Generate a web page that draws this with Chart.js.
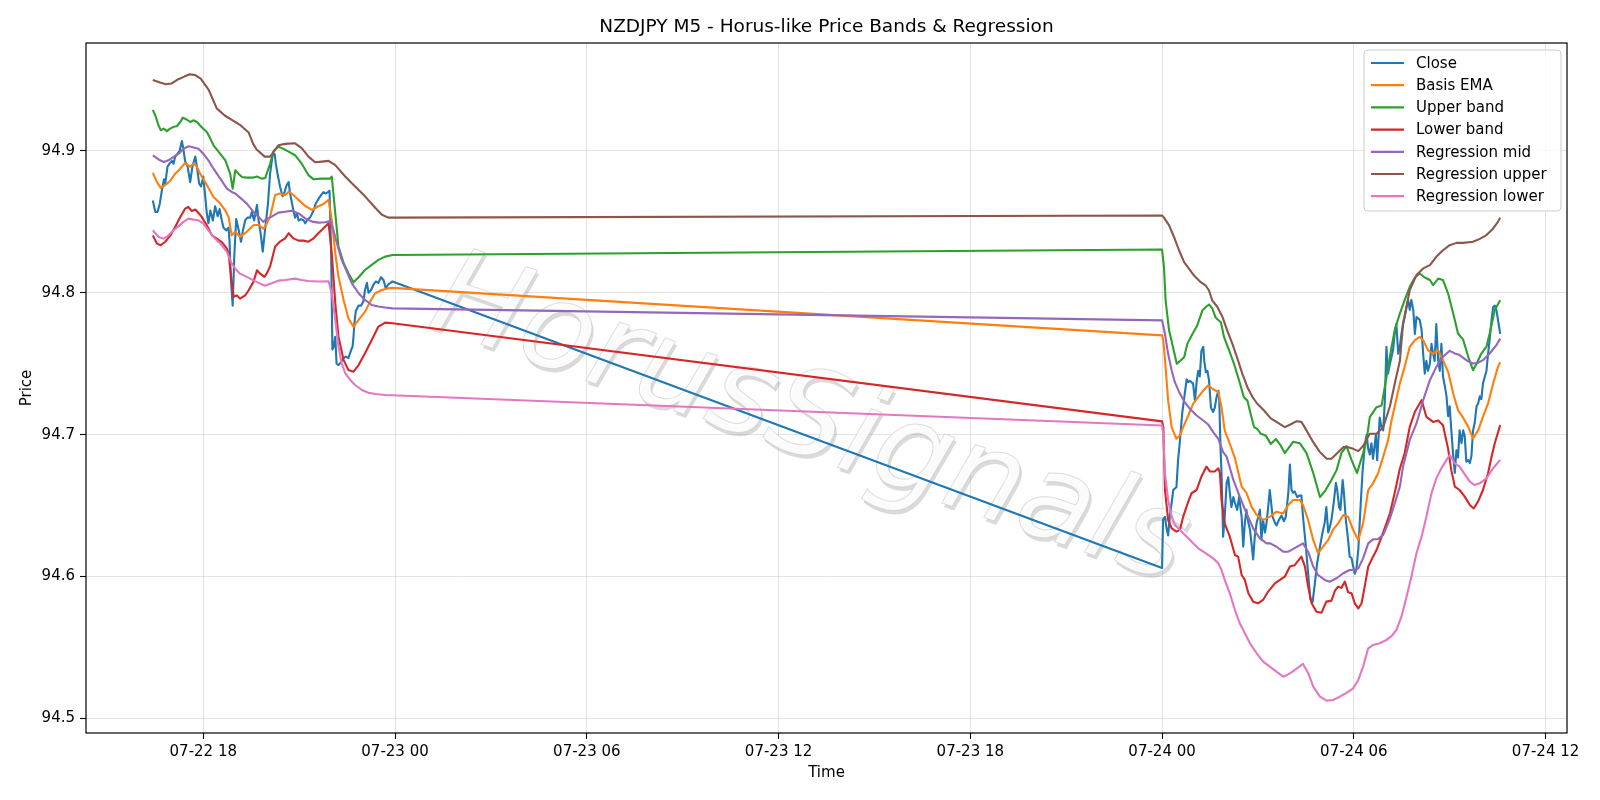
<!DOCTYPE html>
<html>
<head>
<meta charset="utf-8">
<title>NZDJPY M5 - Horus-like Price Bands & Regression</title>
<script src="https://cdn.jsdelivr.net/npm/chart.js@4.4.1/dist/chart.umd.min.js"></script>
<style>
    html, body { margin: 0; padding: 0; background: #fff; }
    #chart { display: block; }
</style>
</head>
<body>
<canvas id="chart" width="1600" height="800"></canvas>
<script>
// hours counted from 07-22 00:00, values are NZDJPY prices
const tickHours = [18, 24, 30, 36, 42, 48, 54, 60];
const tickLabels = ['07-22 18', '07-23 00', '07-23 06', '07-23 12', '07-23 18', '07-24 00', '07-24 06', '07-24 12'];
const priceTicks = [94.5, 94.6, 94.7, 94.8, 94.9];

const seriesNames = ['Close', 'Basis EMA', 'Upper band', 'Lower band', 'Regression mid', 'Regression upper', 'Regression lower'];
const seriesColors = ['#1f77b4', '#ff7f0e', '#2ca02c', '#d62728', '#9467bd', '#8c564b', '#e377c2'];

const closeData = [
    [16.42, 94.865], [16.5, 94.857], [16.57, 94.857], [16.64, 94.863], [16.71, 94.873], [16.77, 94.880], [16.81, 94.877],
    [16.88, 94.889], [16.94, 94.891], [17.02, 94.893], [17.07, 94.891], [17.12, 94.896], [17.19, 94.898], [17.26, 94.900],
    [17.33, 94.907], [17.38, 94.901], [17.43, 94.893], [17.51, 94.889], [17.59, 94.878], [17.66, 94.889], [17.75, 94.896],
    [17.8, 94.889], [17.87, 94.877], [17.93, 94.875], [18.0, 94.882], [18.06, 94.868], [18.11, 94.856], [18.16, 94.849],
    [18.22, 94.858], [18.3, 94.851], [18.37, 94.861], [18.45, 94.854], [18.51, 94.859], [18.58, 94.851], [18.63, 94.846],
    [18.72, 94.844], [18.79, 94.846], [18.82, 94.837], [18.86, 94.811], [18.92, 94.791], [18.97, 94.826], [19.03, 94.852],
    [19.1, 94.845], [19.18, 94.836], [19.24, 94.844], [19.31, 94.851], [19.38, 94.853], [19.47, 94.853], [19.52, 94.857],
    [19.59, 94.851], [19.68, 94.862], [19.73, 94.851], [19.8, 94.841], [19.86, 94.829], [19.94, 94.846], [20.02, 94.862],
    [20.09, 94.884], [20.17, 94.897], [20.23, 94.898], [20.27, 94.891], [20.33, 94.883], [20.4, 94.875], [20.48, 94.868],
    [20.54, 94.871], [20.61, 94.876], [20.67, 94.878], [20.71, 94.871], [20.75, 94.866], [20.82, 94.858], [20.87, 94.853],
    [20.93, 94.856], [20.98, 94.851], [21.06, 94.852], [21.14, 94.851], [21.19, 94.849], [21.27, 94.852], [21.34, 94.853],
    [21.45, 94.858], [21.52, 94.863], [21.6, 94.866], [21.69, 94.869], [21.76, 94.871], [21.83, 94.870], [21.9, 94.871],
    [21.95, 94.872], [22.0, 94.828], [22.04, 94.760], [22.08, 94.762], [22.13, 94.769], [22.17, 94.750], [22.23, 94.749],
    [22.31, 94.751], [22.39, 94.754], [22.46, 94.755], [22.54, 94.754], [22.63, 94.760], [22.67, 94.762], [22.7, 94.769],
    [22.73, 94.779], [22.77, 94.787], [22.86, 94.791], [22.94, 94.791], [23.01, 94.794], [23.06, 94.802], [23.12, 94.807],
    [23.17, 94.800], [23.25, 94.802], [23.33, 94.806], [23.4, 94.808], [23.48, 94.807], [23.56, 94.811], [23.64, 94.809],
    [23.71, 94.803], [23.79, 94.806], [23.86, 94.807], [23.92, 94.808],
    [48.0, 94.606], [48.03, 94.640], [48.09, 94.642], [48.14, 94.634], [48.19, 94.629], [48.24, 94.642], [48.3, 94.652],
    [48.35, 94.661], [48.4, 94.662], [48.45, 94.663], [48.5, 94.682], [48.56, 94.696], [48.63, 94.715], [48.71, 94.729],
    [48.77, 94.739], [48.82, 94.737], [48.87, 94.738], [48.92, 94.737], [48.97, 94.736], [49.03, 94.724], [49.08, 94.737],
    [49.13, 94.745], [49.18, 94.741], [49.23, 94.759], [49.29, 94.762], [49.32, 94.752], [49.37, 94.744], [49.42, 94.745],
    [49.47, 94.738], [49.53, 94.719], [49.6, 94.716], [49.65, 94.719], [49.7, 94.726], [49.76, 94.731], [49.79, 94.724],
    [49.83, 94.690], [49.86, 94.673], [49.91, 94.628], [49.96, 94.642], [50.02, 94.666], [50.07, 94.670], [50.12, 94.659],
    [50.17, 94.649], [50.23, 94.656], [50.28, 94.652], [50.35, 94.647], [50.41, 94.656], [50.49, 94.642], [50.54, 94.621],
    [50.59, 94.638], [50.64, 94.647], [50.7, 94.638], [50.75, 94.633], [50.8, 94.623], [50.85, 94.612], [50.9, 94.628],
    [50.96, 94.638], [51.01, 94.642], [51.06, 94.647], [51.11, 94.626], [51.16, 94.640], [51.22, 94.631], [51.27, 94.638],
    [51.32, 94.649], [51.37, 94.661], [51.46, 94.642], [51.53, 94.638], [51.58, 94.636], [51.66, 94.640], [51.74, 94.643],
    [51.81, 94.639], [51.87, 94.642], [51.95, 94.659], [52.0, 94.679], [52.05, 94.661], [52.1, 94.659], [52.15, 94.660],
    [52.23, 94.656], [52.29, 94.657], [52.36, 94.657], [52.41, 94.642], [52.5, 94.621], [52.57, 94.602], [52.64, 94.584],
    [52.71, 94.582], [52.78, 94.595], [52.85, 94.609], [52.94, 94.621], [53.02, 94.631], [53.09, 94.638], [53.14, 94.649],
    [53.2, 94.631], [53.25, 94.635], [53.3, 94.640], [53.37, 94.652], [53.44, 94.666], [53.48, 94.661], [53.54, 94.649],
    [53.58, 94.647], [53.65, 94.668], [53.69, 94.659], [53.75, 94.640], [53.82, 94.626], [53.87, 94.614], [53.93, 94.613],
    [53.98, 94.607], [54.03, 94.602], [54.08, 94.605], [54.14, 94.619], [54.21, 94.649], [54.27, 94.673], [54.34, 94.692],
    [54.4, 94.700], [54.45, 94.690], [54.5, 94.686], [54.55, 94.694], [54.6, 94.683], [54.69, 94.700], [54.73, 94.682],
    [54.81, 94.712], [54.87, 94.705], [54.92, 94.703], [54.97, 94.724], [55.02, 94.762], [55.07, 94.743], [55.13, 94.750],
    [55.18, 94.755], [55.23, 94.760], [55.28, 94.772], [55.33, 94.778], [55.39, 94.757], [55.44, 94.762], [55.49, 94.771],
    [55.54, 94.778], [55.59, 94.783], [55.65, 94.790], [55.7, 94.795], [55.75, 94.788], [55.8, 94.795], [55.86, 94.788],
    [55.91, 94.771], [55.96, 94.783], [56.01, 94.782], [56.06, 94.781], [56.12, 94.774], [56.17, 94.757], [56.22, 94.743],
    [56.27, 94.752], [56.32, 94.745], [56.38, 94.750], [56.43, 94.764], [56.48, 94.757], [56.53, 94.752], [56.58, 94.778],
    [56.64, 94.752], [56.69, 94.745], [56.74, 94.764], [56.79, 94.741], [56.85, 94.734], [56.9, 94.727], [56.95, 94.713],
    [57.0, 94.720], [57.05, 94.703], [57.11, 94.685], [57.16, 94.673], [57.21, 94.689], [57.26, 94.684], [57.31, 94.703],
    [57.37, 94.694], [57.42, 94.703], [57.47, 94.699], [57.52, 94.681], [57.58, 94.682], [57.63, 94.680], [57.68, 94.685],
    [57.73, 94.703], [57.78, 94.708], [57.84, 94.720], [57.89, 94.722], [57.94, 94.727], [57.99, 94.725], [58.04, 94.736],
    [58.1, 94.741], [58.15, 94.745], [58.2, 94.757], [58.25, 94.767], [58.31, 94.781], [58.36, 94.790], [58.41, 94.791],
    [58.46, 94.788], [58.51, 94.781], [58.58, 94.771]
];

const emaData = [
    [16.42, 94.8845], [16.55, 94.878], [16.67, 94.874], [16.81, 94.876], [16.97, 94.879], [17.12, 94.884], [17.28, 94.8875],
    [17.43, 94.8915], [17.59, 94.889], [17.7, 94.891], [17.8, 94.889], [17.9, 94.884], [18.11, 94.876], [18.32, 94.8676],
    [18.53, 94.863], [18.69, 94.858], [18.79, 94.8535], [18.89, 94.8405], [19.0, 94.843], [19.15, 94.8394], [19.36, 94.843],
    [19.57, 94.8476], [19.73, 94.848], [19.88, 94.8452], [19.94, 94.8467], [20.09, 94.8537], [20.25, 94.869], [20.4, 94.870],
    [20.56, 94.869], [20.67, 94.8713], [20.82, 94.869], [20.98, 94.8655], [21.19, 94.8612], [21.4, 94.8584], [21.6, 94.861],
    [21.76, 94.8626], [21.92, 94.8655], [22.02, 94.8514], [22.13, 94.8279], [22.23, 94.8114], [22.39, 94.795], [22.54, 94.782],
    [22.7, 94.7762], [22.86, 94.7809], [23.06, 94.7867], [23.22, 94.7938], [23.38, 94.7997], [23.59, 94.802], [23.79, 94.8032],
    [23.92, 94.8035],
    [48.0, 94.770], [48.04, 94.7664], [48.11, 94.7476], [48.19, 94.724], [48.3, 94.7053], [48.45, 94.6971], [48.56, 94.6995],
    [48.66, 94.7053], [48.82, 94.7135], [48.97, 94.7217], [49.13, 94.7264], [49.29, 94.7311], [49.44, 94.7347], [49.6, 94.732],
    [49.76, 94.730], [49.86, 94.7194], [49.96, 94.703], [50.12, 94.6935], [50.28, 94.6834], [50.49, 94.6634], [50.64, 94.659],
    [50.8, 94.6493], [50.96, 94.6434], [51.17, 94.6399], [51.38, 94.6422], [51.58, 94.6457], [51.79, 94.6445], [51.95, 94.6504],
    [52.1, 94.654], [52.31, 94.654], [52.41, 94.6504], [52.57, 94.6399], [52.73, 94.6258], [52.88, 94.6164], [53.04, 94.6211],
    [53.2, 94.6258], [53.35, 94.633], [53.51, 94.6375], [53.67, 94.6434], [53.82, 94.6422], [53.98, 94.6328], [54.14, 94.6258],
    [54.29, 94.6375], [54.45, 94.661], [54.6, 94.6657], [54.76, 94.6728], [54.92, 94.6845], [55.07, 94.696], [55.18, 94.710],
    [55.28, 94.720], [55.44, 94.7361], [55.59, 94.7478], [55.75, 94.7619], [55.91, 94.7666], [56.06, 94.769], [56.17, 94.7666],
    [56.32, 94.7596], [56.48, 94.757], [56.64, 94.7596], [56.79, 94.7525], [56.95, 94.7443], [57.11, 94.729], [57.26, 94.7173],
    [57.42, 94.712], [57.58, 94.7055], [57.73, 94.6973], [57.89, 94.703], [58.04, 94.7126], [58.2, 94.722], [58.36, 94.7361],
    [58.51, 94.7478], [58.58, 94.751]
];

const upperData = [
    [16.42, 94.929], [16.5, 94.925], [16.6, 94.918], [16.67, 94.9146], [16.76, 94.9157], [16.86, 94.914], [16.96, 94.9157],
    [17.07, 94.917], [17.17, 94.9174], [17.28, 94.9204], [17.36, 94.9235], [17.49, 94.922], [17.59, 94.9204], [17.7, 94.9216],
    [17.8, 94.9204], [17.9, 94.918], [18.0, 94.9157], [18.11, 94.9134], [18.22, 94.9087], [18.32, 94.904], [18.53, 94.898],
    [18.69, 94.8934], [18.84, 94.884], [18.92, 94.8734], [19.0, 94.8864], [19.1, 94.884], [19.21, 94.8817], [19.36, 94.8812],
    [19.57, 94.8812], [19.68, 94.882], [19.83, 94.8805], [19.94, 94.881], [20.09, 94.891], [20.2, 94.900], [20.35, 94.903],
    [20.46, 94.902], [20.67, 94.8995], [20.87, 94.897], [21.08, 94.891], [21.29, 94.883], [21.45, 94.880], [21.71, 94.8805],
    [21.97, 94.8805], [22.02, 94.882], [22.13, 94.856], [22.23, 94.8326], [22.39, 94.821], [22.54, 94.8138], [22.7, 94.8074],
    [22.86, 94.811], [23.06, 94.8161], [23.27, 94.8197], [23.48, 94.8232], [23.69, 94.8255], [23.92, 94.8267],
    [48.0, 94.8305], [48.06, 94.818], [48.11, 94.7946], [48.22, 94.7734], [48.32, 94.764], [48.46, 94.750], [48.58, 94.7523],
    [48.69, 94.7546], [48.79, 94.764], [48.95, 94.771], [49.1, 94.777], [49.26, 94.7875], [49.37, 94.790], [49.47, 94.7918],
    [49.57, 94.789], [49.68, 94.7824], [49.84, 94.7793], [49.94, 94.7687], [50.1, 94.7593], [50.25, 94.750], [50.41, 94.7382],
    [50.56, 94.7264], [50.67, 94.724], [50.77, 94.7147], [50.88, 94.7053], [50.98, 94.704], [51.09, 94.7006], [51.24, 94.6995],
    [51.4, 94.6935], [51.56, 94.697], [51.71, 94.6924], [51.84, 94.687], [52.1, 94.695], [52.31, 94.694], [52.52, 94.687],
    [52.73, 94.673], [52.94, 94.656], [53.09, 94.660], [53.3, 94.668], [53.46, 94.675], [53.61, 94.687], [53.77, 94.692],
    [53.93, 94.682], [54.1, 94.673], [54.29, 94.687], [54.4, 94.696], [54.5, 94.7124], [54.71, 94.7194], [54.87, 94.7206],
    [55.02, 94.7405], [55.18, 94.7617], [55.28, 94.7737], [55.44, 94.7854], [55.59, 94.7948], [55.75, 94.8042], [55.91, 94.8108],
    [56.06, 94.8136], [56.22, 94.8108], [56.38, 94.809], [56.48, 94.8054], [56.64, 94.810], [56.79, 94.809], [56.95, 94.7995],
    [57.11, 94.7854], [57.26, 94.7713], [57.42, 94.767], [57.58, 94.7549], [57.73, 94.7455], [57.84, 94.750], [57.99, 94.7572],
    [58.15, 94.762], [58.25, 94.7713], [58.41, 94.7878], [58.58, 94.7948]
];

const lowerData = [
    [16.42, 94.8405], [16.55, 94.8347], [16.67, 94.8335], [16.81, 94.836], [16.97, 94.8405], [17.12, 94.8464], [17.28, 94.8535],
    [17.43, 94.8593], [17.53, 94.8605], [17.64, 94.8577], [17.75, 94.8587], [17.85, 94.8563], [17.95, 94.8535], [18.11, 94.8476],
    [18.27, 94.8405], [18.42, 94.8382], [18.58, 94.8358], [18.74, 94.8311], [18.79, 94.8276], [18.86, 94.8135], [18.95, 94.7971],
    [19.05, 94.7982], [19.15, 94.7959], [19.31, 94.7982], [19.42, 94.8018], [19.57, 94.8077], [19.68, 94.8159], [19.78, 94.8135],
    [19.91, 94.8112], [19.97, 94.813], [20.09, 94.8185], [20.25, 94.8326], [20.4, 94.8361], [20.56, 94.8384], [20.67, 94.842],
    [20.82, 94.8384], [20.98, 94.8368], [21.14, 94.8368], [21.29, 94.836], [21.45, 94.8384], [21.6, 94.842], [21.76, 94.8455],
    [21.92, 94.849], [22.02, 94.8279], [22.13, 94.7926], [22.23, 94.7691], [22.39, 94.7527], [22.54, 94.7456], [22.7, 94.7444],
    [22.86, 94.7491], [23.06, 94.7574], [23.27, 94.7668], [23.48, 94.7762], [23.69, 94.779], [23.92, 94.7785],
    [48.0, 94.7094], [48.04, 94.705], [48.09, 94.661], [48.19, 94.6399], [48.3, 94.634], [48.45, 94.6316], [48.56, 94.633],
    [48.66, 94.6422], [48.82, 94.6528], [48.92, 94.6587], [49.08, 94.661], [49.23, 94.6704], [49.39, 94.6775], [49.5, 94.674],
    [49.65, 94.674], [49.76, 94.6763], [49.81, 94.673], [49.86, 94.654], [49.96, 94.6375], [50.12, 94.6281], [50.28, 94.6152],
    [50.38, 94.614], [50.49, 94.6011], [50.59, 94.5976], [50.7, 94.5882], [50.85, 94.5823], [51.0, 94.5811], [51.16, 94.5835],
    [51.32, 94.5894], [51.53, 94.5952], [51.69, 94.5976], [51.84, 94.5999], [52.0, 94.607], [52.15, 94.608], [52.36, 94.614],
    [52.47, 94.607], [52.57, 94.5929], [52.68, 94.5811], [52.83, 94.5752], [52.99, 94.5745], [53.14, 94.5823], [53.3, 94.583],
    [53.41, 94.590], [53.51, 94.5929], [53.61, 94.592], [53.72, 94.5964], [53.82, 94.589], [53.93, 94.5882], [54.03, 94.5811],
    [54.14, 94.5776], [54.24, 94.581], [54.34, 94.5929], [54.45, 94.607], [54.55, 94.6117], [54.71, 94.6187], [54.87, 94.6281],
    [55.02, 94.6375], [55.13, 94.6446], [55.28, 94.659], [55.44, 94.676], [55.59, 94.6869], [55.75, 94.7055], [55.91, 94.7161],
    [56.12, 94.7243], [56.27, 94.7126], [56.48, 94.709], [56.64, 94.710], [56.79, 94.7067], [56.95, 94.690], [57.05, 94.675],
    [57.16, 94.6634], [57.31, 94.661], [57.47, 94.6563], [57.63, 94.6504], [57.75, 94.648], [57.89, 94.653], [58.04, 94.661],
    [58.2, 94.6728], [58.31, 94.6845], [58.41, 94.694], [58.58, 94.7067]
];

const regMidData = [
    [16.42, 94.8969], [16.6, 94.894], [16.76, 94.8922], [16.91, 94.8934], [17.07, 94.8958], [17.23, 94.8981], [17.38, 94.9016],
    [17.54, 94.9033], [17.7, 94.9024], [17.85, 94.9016], [18.0, 94.8981], [18.16, 94.8934], [18.32, 94.8875], [18.53, 94.8805],
    [18.74, 94.8734], [18.89, 94.8711], [19.0, 94.870], [19.15, 94.8671], [19.36, 94.8629], [19.57, 94.857], [19.73, 94.8535],
    [19.88, 94.850], [19.94, 94.8514], [20.14, 94.8537], [20.35, 94.8565], [20.56, 94.8572], [20.77, 94.8579], [20.98, 94.856],
    [21.19, 94.8525], [21.4, 94.8502], [21.6, 94.8495], [21.81, 94.8497], [21.97, 94.8507], [22.07, 94.8443], [22.18, 94.8349],
    [22.33, 94.8232], [22.49, 94.8149], [22.65, 94.8067], [22.86, 94.7997], [23.06, 94.795], [23.27, 94.7914], [23.48, 94.7903],
    [23.69, 94.7896], [23.92, 94.789],
    [48.0, 94.7806], [48.09, 94.7711], [48.19, 94.757], [48.3, 94.7452], [48.4, 94.737], [48.56, 94.7288], [48.71, 94.7229],
    [48.87, 94.7182], [49.08, 94.7135], [49.29, 94.710], [49.44, 94.7072], [49.6, 94.7018], [49.76, 94.6971], [49.91, 94.6877],
    [50.02, 94.6845], [50.23, 94.6681], [50.43, 94.6563], [50.64, 94.6446], [50.85, 94.634], [51.06, 94.6269], [51.27, 94.6234],
    [51.37, 94.6235], [51.58, 94.621], [51.79, 94.6175], [51.95, 94.6175], [52.15, 94.620], [52.41, 94.6234], [52.57, 94.6175],
    [52.73, 94.607], [52.88, 94.6011], [53.09, 94.5976], [53.25, 94.5964], [53.46, 94.5988], [53.67, 94.6023], [53.87, 94.6046],
    [54.03, 94.6046], [54.14, 94.6058], [54.29, 94.6128], [54.45, 94.6234], [54.6, 94.6262], [54.76, 94.6265], [54.92, 94.6293],
    [55.07, 94.6375], [55.13, 94.641], [55.28, 94.6516], [55.44, 94.6634], [55.54, 94.6775], [55.75, 94.6963], [55.96, 94.7079],
    [56.17, 94.7243], [56.38, 94.7384], [56.58, 94.7478], [56.79, 94.7549], [57.0, 94.7591], [57.16, 94.7573], [57.31, 94.7561],
    [57.52, 94.7525], [57.73, 94.7502], [57.89, 94.7507], [58.04, 94.7525], [58.25, 94.7572], [58.46, 94.7631], [58.58, 94.7678]
];

const regUpperData = [
    [16.42, 94.950], [16.67, 94.948], [16.83, 94.947], [17.0, 94.9475], [17.17, 94.950], [17.42, 94.9526], [17.58, 94.954],
    [17.75, 94.9535], [17.92, 94.951], [18.17, 94.943], [18.42, 94.930], [18.67, 94.925], [18.92, 94.9216], [19.17, 94.918],
    [19.42, 94.913], [19.56, 94.905], [19.67, 94.901], [19.92, 94.896], [20.09, 94.896], [20.35, 94.904], [20.56, 94.905],
    [20.87, 94.9054], [21.08, 94.902], [21.29, 94.896], [21.5, 94.892], [21.71, 94.8925], [21.92, 94.893], [22.13, 94.890],
    [22.44, 94.882], [22.75, 94.875], [23.06, 94.868], [23.38, 94.860], [23.59, 94.855], [23.79, 94.853], [23.92, 94.853],
    [48.0, 94.8545], [48.06, 94.853], [48.22, 94.8475], [48.38, 94.839], [48.53, 94.830], [48.69, 94.8216], [48.84, 94.817],
    [49.0, 94.8122], [49.21, 94.8075], [49.37, 94.805], [49.47, 94.8016], [49.57, 94.7946], [49.73, 94.790], [49.89, 94.783],
    [50.04, 94.7734], [50.2, 94.764], [50.36, 94.7535], [50.51, 94.743], [50.67, 94.7335], [50.83, 94.7265], [50.98, 94.7218],
    [51.19, 94.717], [51.4, 94.7115], [51.58, 94.709], [51.84, 94.7053], [52.0, 94.707], [52.21, 94.7095], [52.36, 94.709],
    [52.52, 94.703], [52.73, 94.6947], [52.94, 94.6877], [53.15, 94.683], [53.3, 94.683], [53.46, 94.6865], [53.67, 94.6912],
    [53.82, 94.6912], [53.98, 94.690], [54.14, 94.6884], [54.29, 94.692], [54.5, 94.7006], [54.71, 94.7006], [54.92, 94.7053],
    [55.13, 94.720], [55.3, 94.738], [55.44, 94.752], [55.54, 94.778], [55.75, 94.802], [55.96, 94.8125], [56.17, 94.8172],
    [56.38, 94.8195], [56.58, 94.8254], [56.79, 94.830], [57.0, 94.8336], [57.21, 94.8352], [57.42, 94.8352], [57.73, 94.836],
    [57.94, 94.838], [58.15, 94.8407], [58.36, 94.8454], [58.51, 94.850], [58.58, 94.853]
];

const regLowerData = [
    [16.42, 94.8441], [16.6, 94.8394], [16.76, 94.8382], [16.91, 94.8405], [17.07, 94.8441], [17.23, 94.847], [17.38, 94.850],
    [17.54, 94.8523], [17.7, 94.8516], [17.85, 94.8511], [18.0, 94.8488], [18.16, 94.8441], [18.32, 94.8394], [18.53, 94.8347],
    [18.74, 94.8288], [18.89, 94.8206], [19.0, 94.817], [19.15, 94.8135], [19.36, 94.8112], [19.57, 94.8088], [19.78, 94.8065],
    [19.93, 94.805], [20.14, 94.8067], [20.35, 94.8086], [20.56, 94.809], [20.87, 94.810], [21.08, 94.809], [21.29, 94.8083],
    [21.6, 94.808], [21.92, 94.8081], [22.02, 94.7997], [22.13, 94.7809], [22.23, 94.7621], [22.33, 94.7503], [22.44, 94.7433],
    [22.6, 94.7386], [22.75, 94.735], [22.96, 94.7315], [23.17, 94.7296], [23.38, 94.7287], [23.69, 94.728], [23.92, 94.7278],
    [48.0, 94.7065], [48.04, 94.700], [48.09, 94.6728], [48.19, 94.654], [48.3, 94.6422], [48.4, 94.6364], [48.56, 94.6328],
    [48.66, 94.6305], [48.82, 94.627], [48.97, 94.6234], [49.13, 94.6199], [49.29, 94.6175], [49.44, 94.6152], [49.6, 94.6128],
    [49.76, 94.6093], [49.86, 94.6046], [49.96, 94.5976], [50.12, 94.5882], [50.28, 94.5764], [50.43, 94.567], [50.59, 94.560],
    [50.75, 94.5529], [50.96, 94.5459], [51.16, 94.540], [51.37, 94.5365], [51.58, 94.533], [51.79, 94.5294], [51.95, 94.531],
    [52.15, 94.5341], [52.41, 94.5384], [52.57, 94.532], [52.73, 94.5224], [52.94, 94.5153], [53.15, 94.5125], [53.35, 94.513],
    [53.56, 94.5153], [53.77, 94.518], [53.98, 94.5212], [54.14, 94.5271], [54.29, 94.5365], [54.45, 94.5494], [54.6, 94.5517],
    [54.81, 94.553], [55.02, 94.5553], [55.18, 94.558], [55.33, 94.5623], [55.49, 94.5717], [55.65, 94.5858], [55.8, 94.5999],
    [55.96, 94.6164], [56.12, 94.6281], [56.27, 94.6422], [56.43, 94.6587], [56.58, 94.6692], [56.74, 94.6763], [56.9, 94.6822],
    [57.0, 94.6857], [57.16, 94.6798], [57.31, 94.6775], [57.47, 94.672], [57.63, 94.6669], [57.78, 94.6645], [57.94, 94.6657],
    [58.15, 94.6692], [58.36, 94.6763], [58.58, 94.6822]
];

const allSeries = [closeData, emaData, upperData, lowerData, regMidData, regUpperData, regLowerData];

const FONT = '"DejaVu Sans", "Liberation Sans", sans-serif';

// --- Watermark behind the lines --- //
const watermark = {
    id: 'watermark',
    beforeDatasetsDraw(chart) {
        const ctx = chart.ctx;
        ctx.save();
        ctx.translate(809, 424);
        ctx.rotate(19 * Math.PI / 180);
        ctx.font = 'italic 121px ' + FONT;
        ctx.textAlign = 'center';
        ctx.textBaseline = 'middle';
        ctx.fillStyle = 'rgba(150,150,150,0.35)';
        ctx.fillText('HorusSignals', 3, 3);
        ctx.fillStyle = 'rgba(253,253,253,0.95)';
        ctx.fillText('HorusSignals', 0, 0);
        ctx.strokeStyle = 'rgba(200,200,200,0.6)';
        ctx.lineWidth = 1;
        ctx.strokeText('HorusSignals', 0, 0);
        ctx.restore();
    }
};

// --- Frame, titles, legend --- //
const decorations = {
    id: 'decorations',
    afterDatasetsDraw(chart) {
        const ctx = chart.ctx;
        const a = chart.chartArea;
        ctx.save();
        ctx.strokeStyle = '#000';
        ctx.lineWidth = 1.2;
        ctx.strokeRect(a.left, a.top, a.right - a.left, a.bottom - a.top);

        ctx.fillStyle = '#000';
        ctx.textAlign = 'center';
        ctx.textBaseline = 'alphabetic';
        ctx.font = '18.5px ' + FONT;
        ctx.fillText('NZDJPY M5 - Horus-like Price Bands & Regression', (a.left + a.right) / 2, 32);

        ctx.font = '15px ' + FONT;
        ctx.fillText('Time', (a.left + a.right) / 2, 777);
        ctx.save();
        ctx.translate(31, (a.top + a.bottom) / 2);
        ctx.rotate(-Math.PI / 2);
        ctx.fillText('Price', 0, 0);
        ctx.restore();

        // legend box
        const bx = 1364, by = 50, bw = 197, bh = 161;
        ctx.beginPath();
        ctx.roundRect(bx, by, bw, bh, 4);
        ctx.fillStyle = 'rgba(255,255,255,0.8)';
        ctx.fill();
        ctx.strokeStyle = '#cccccc';
        ctx.lineWidth = 1;
        ctx.stroke();

        ctx.textAlign = 'left';
        ctx.textBaseline = 'middle';
        ctx.font = '15px ' + FONT;
        seriesNames.forEach((name, i) => {
            const y = 63 + i * 22.2;
            ctx.strokeStyle = seriesColors[i];
            ctx.lineWidth = 2.2;
            ctx.beginPath();
            ctx.moveTo(1371, y);
            ctx.lineTo(1404, y);
            ctx.stroke();
            ctx.fillStyle = '#000';
            ctx.fillText(name, 1416, y + 1);
        });
        ctx.restore();
    }
};

const datasets = allSeries.map((series, i) => ({
    label: seriesNames[i],
    data: series.map(([x, y]) => ({ x, y })),
    borderColor: seriesColors[i],
    backgroundColor: seriesColors[i],
    borderWidth: 2.1,
    borderJoinStyle: 'round',
    pointRadius: 0,
    tension: 0,
    fill: false,
    order: seriesNames.length - i
}));

new Chart(document.getElementById('chart'), {
    type: 'line',
    data: { datasets },
    options: {
        responsive: false,
        animation: false,
        devicePixelRatio: 1,
        layout: { padding: { left: 0, right: 33, top: 43, bottom: 0 } },
        plugins: {
            legend: { display: false },
            title: { display: false },
            tooltip: { enabled: false }
        },
        scales: {
            x: {
                type: 'linear',
                min: 14.33,
                max: 60.67,
                afterBuildTicks: (scale) => {
                    scale.ticks = tickHours.map(v => ({ value: v }));
                },
                afterFit: (scale) => { scale.height = 67; },
                ticks: {
                    autoSkip: false,
                    maxRotation: 0,
                    padding: 4,
                    color: '#000',
                    font: { family: FONT, size: 15 },
                    callback: (value, index) => tickLabels[index]
                },
                grid: {
                    color: 'rgba(176,176,176,0.35)',
                    lineWidth: 1,
                    drawTicks: true,
                    tickLength: 6,
                    tickColor: '#000',
                    tickWidth: 1.1
                },
                border: { display: false }
            },
            y: {
                type: 'linear',
                min: 94.4897,
                max: 94.9761,
                afterBuildTicks: (scale) => {
                    scale.ticks = priceTicks.map(v => ({ value: v }));
                },
                afterFit: (scale) => { scale.width = 86; },
                ticks: {
                    padding: 5,
                    color: '#000',
                    font: { family: FONT, size: 15 },
                    callback: (value) => value.toFixed(1)
                },
                grid: {
                    color: 'rgba(176,176,176,0.35)',
                    lineWidth: 1,
                    drawTicks: true,
                    tickLength: 6,
                    tickColor: '#000',
                    tickWidth: 1.1
                },
                border: { display: false }
            }
        }
    },
    plugins: [watermark, decorations]
});
</script>
</body>
</html>
